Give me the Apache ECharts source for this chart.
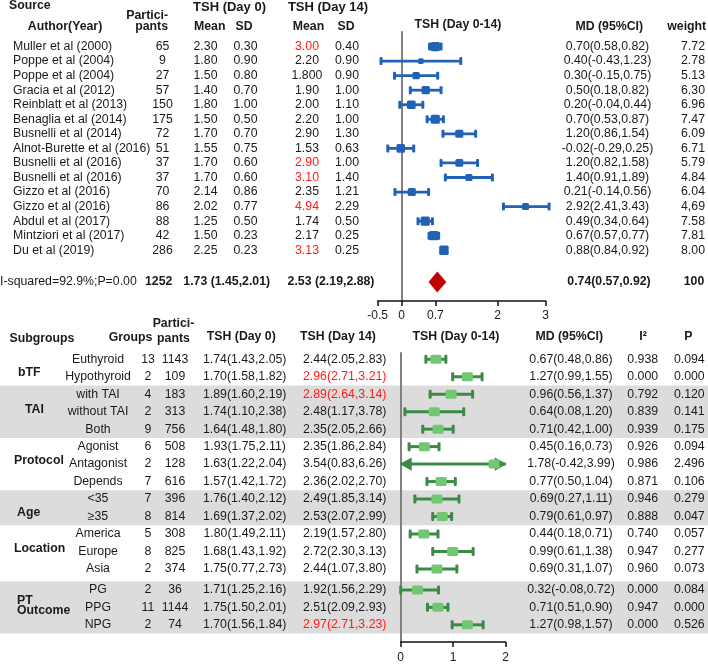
<!DOCTYPE html>
<html><head><meta charset="utf-8">
<script src="https://cdn.jsdelivr.net/npm/echarts@6/dist/echarts.min.js"></script>
<style>html,body{margin:0;padding:0;background:#fff}#c{width:708px;height:664px}</style>
</head><body><div id="c"></div>
<script>
// ---------------- DATA: top table (individual studies) ----------------
const authors = ['Muller et al (2000)','Poppe et al (2004)','Poppe et al (2004)','Gracia et al (2012)','Reinblatt et al (2013)','Benaglia et al (2014)','Busnelli et al (2014)','Alnot-Burette et al (2016)','Busnelli et al (2016)','Busnelli et al (2016)','Gizzo et al (2016)','Gizzo et al (2016)','Abdul et al (2017)','Mintziori et al (2017)','Du et al (2019)'];
const participants = [65, 9, 27, 57, 150, 175, 72, 51, 37, 37, 70, 86, 88, 42, 286];
const day0Mean = ['2.30','1.80','1.50','1.40','1.80','1.50','1.70','1.55','1.70','1.70','2.14','2.02','1.25','1.50','2.25'];
const day0SD = ['0.30','0.90','0.80','0.70','1.00','0.50','0.70','0.75','0.60','0.60','0.86','0.77','0.50','0.23','0.23'];
const day14Mean = ['3.00','2.20','1.800','1.90','2.00','2.20','2.90','1.53','2.90','3.10','2.35','4.94','1.74','2.17','3.13'];
const day14SD = ['0.40','0.90','0.90','1.00','1.10','1.00','1.30','0.63','1.00','1.40','1.21','2.29','0.50','0.25','0.25'];
const day14Highlight = [true,false,false,false,false,false,false,false,true,true,false,true,false,false,true];
const mdLabels = ['0.70(0.58,0.82)','0.40(-0.43,1.23)','0.30(-0.15,0.75)','0.50(0.18,0.82)','0.20(-0.04,0.44)','0.70(0.53,0.87)','1.20(0.86,1.54)','-0.02(-0.29,0.25)','1.20(0.82,1.58)','1.40(0.91,1.89)','0.21(-0.14,0.56)','2.92(2.41,3.43)','0.49(0.34,0.64)','0.67(0.57,0.77)','0.88(0.84,0.92)'];
const weightLabels = ['7.72','2.78','5.13','6.30','6.96','7.47','6.09','6.71','5.79','4.84','6.04','4,69','7.58','7.81','8.00'];
const weights = [7.72, 2.78, 5.13, 6.30, 6.96, 7.47, 6.09, 6.71, 5.79, 4.84, 6.04, 4.69, 7.58, 7.81, 8.00];
// plotted values as drawn in the figure
const mdPlot = [0.70, 0.40, 0.30, 0.50, 0.20, 0.70, 1.20, -0.02, 1.20, 1.40, 0.21, 2.58, 0.49, 0.67, 0.88];
const loPlot = [0.58, -0.43, -0.15, 0.18, -0.04, 0.53, 0.86, -0.29, 0.82, 0.91, -0.14, 2.12, 0.34, 0.57, 0.84];
const hiPlot = [0.82, 1.23, 0.75, 0.82, 0.44, 0.87, 1.54, 0.25, 1.58, 1.89, 0.56, 3.07, 0.64, 0.77, 0.92];
// pooled
const pooledText = 'I-squared=92.9%;P=0.00';
const pooledN = '1252';
const pooledDay0 = '1.73 (1.45,2.01)';
const pooledDay14 = '2.53 (2.19,2.88)';
const pooledMDLabel = '0.74(0.57,0.92)';
const pooledWeight = '100';
const pooled = [0.74, 0.56, 0.93]; // md, lo, hi (as drawn)
const topTicks = [-0.5, 0, 0.7, 2, 3];

// ---------------- DATA: subgroup table ----------------
const groupLabels = ['bTF','TAI','Protocol','Age','Location','PT\nOutcome'];
const groupSizes = [2, 3, 3, 2, 3, 3];
const subNames = ['Euthyroid','Hypothyroid','with TAI','without TAI','Both','Agonist','Antagonist','Depends','<35','≥35','America','Europe','Asia','PG','PPG','NPG'];
const subGroupsN = [13, 2, 4, 2, 9, 6, 2, 7, 7, 8, 5, 8, 2, 2, 11, 2];
const subParticipants = [1143, 109, 183, 313, 756, 508, 128, 616, 396, 814, 308, 825, 374, 36, 1144, 74];
const subDay0 = ['1.74(1.43,2.05)','1.70(1.58,1.82)','1.89(1.60,2.19)','1.74(1.10,2.38)','1.64(1.48,1.80)','1.93(1.75,2.11)','1.63(1.22,2.04)','1.57(1.42,1.72)','1.76(1.40,2.12)','1.69(1.37,2.02)','1.80(1.49,2.11)','1.68(1.43,1.92)','1.75(0.77,2.73)','1.71(1.25,2.16)','1.75(1.50,2.01)','1.70(1.56,1.84)'];
const subDay14 = ['2.44(2.05,2.83)','2.96(2.71,3.21)','2.89(2.64,3.14)','2.48(1.17,3.78)','2.35(2.05,2.66)','2.35(1.86,2.84)','3.54(0.83,6.26)','2.36(2.02,2.70)','2.49(1.85,3.14)','2.53(2.07,2.99)','2.19(1.57,2.80)','2.72(2.30,3.13)','2.44(1.07,3.80)','1.92(1.56,2.29)','2.51(2.09,2.93)','2.97(2.71,3.23)'];
const subDay14Highlight = [false,true,true,false,false,false,false,false,false,false,false,false,false,false,false,true];
const subMD = [0.67, 1.27, 0.96, 0.64, 0.71, 0.45, 1.78, 0.77, 0.69, 0.79, 0.44, 0.99, 0.69, 0.32, 0.71, 1.27];
const subLo = [0.48, 0.99, 0.56, 0.08, 0.42, 0.16, -0.42, 0.50, 0.27, 0.61, 0.18, 0.61, 0.31, -0.08, 0.51, 0.98];
const subHi = [0.86, 1.55, 1.37, 1.20, 1.00, 0.73, 3.99, 1.04, 1.11, 0.97, 0.71, 1.38, 1.07, 0.72, 0.90, 1.57];
const subMDLabels = ['0.67(0.48,0.86)','1.27(0.99,1.55)','0.96(0.56,1.37)','0.64(0.08,1.20)','0.71(0.42,1.00)','0.45(0.16,0.73)','1.78(-0.42,3.99)','0.77(0.50,1.04)','0.69(0.27,1.11)','0.79(0.61,0.97)','0.44(0.18,0.71)','0.99(0.61,1.38)','0.69(0.31,1.07)','0.32(-0.08,0.72)','0.71(0.51,0.90)','1.27(0.98,1.57)'];
const subI2 = ['0.938','0.000','0.792','0.839','0.939','0.926','0.986','0.871','0.946','0.888','0.740','0.947','0.960','0.000','0.947','0.000'];
const subP = ['0.094','0.000','0.120','0.141','0.175','0.094','2.496','0.106','0.279','0.047','0.057','0.277','0.073','0.084','0.000','0.526'];

// ---------------- LAYOUT / STYLE ----------------
const FONT = '"Liberation Sans", Arial, Helvetica, sans-serif';
const FS = 12.3;
const TXT = '#1a1a1a', RED = '#ff1a1a';
const BLUE = '#2162b6', DKGREEN = '#3d8948', LTGREEN = '#72c772', DIAMOND = '#c00000';
const BAND = '#dcdcdc', VLINE = '#808080';
const groupGapBefore = [0, 0, 0, 0, 0, 0.2];
const groupShaded = [false, true, false, true, false, true];
const groupLabelX = [18, 25, 14, 17, 14, 17];
const groupLabelDy = [4.5, -2.5, -3, 5, -3, -2];
const topCols = {author: 13, n: 162.5, m0: 205.5, s0: 245.5, m14: 307, s14: 347, md: 607.5, w: 693};
const subCols = {name: 98, g: 148, n: 175, d0: 244.7, d14: 344.7, md: 571, i2: 642.7, p: 689.3};
const pooledRow = 16.18;

// bottom row positions (row slots incl. group gap)
const subRowPos = [];
const groupRange = [];
(function(){ let pos = 0; groupSizes.forEach((n, g) => { pos += groupGapBefore[g]; const s = pos; for (let j = 0; j < n; j++) subRowPos.push(pos++); groupRange.push([s, pos - 1]); }); })();

function font(bold, size) { return (bold ? 'bold ' : '') + (size || FS) + 'px ' + FONT; }
function T(x, y, s, o) {
  o = o || {};
  return {type: 'text', silent: true, style: {text: s, x: x, y: y, textAlign: o.align || 'center', textVerticalAlign: 'middle', align: o.align || 'center', verticalAlign: 'middle', font: font(o.bold, o.size), fill: o.color || TXT, lineHeight: o.lh}};
}

// error bar renderer (tol in pixels: beyond it the clipped end becomes an arrow)
function errorBar(cfg) {
  return function (params, api) {
    const row = api.value(1);
    const c = api.coord([api.value(0), row]);
    const cs = params.coordSys;
    const xa = cs.x, xb = cs.x + cs.width;
    let pl = api.coord([api.value(2), row])[0], pr = api.coord([api.value(3), row])[0];
    const arL = pl < xa - cfg.tol, arR = pr > xb + cfg.tol;
    if (cfg.clamp || arL) pl = Math.max(pl, xa);
    if (cfg.clamp || arR) pr = Math.min(pr, xb);
    const y = c[1];
    const ch = [];
    ch.push({type: 'line', shape: {x1: pl, y1: y, x2: pr, y2: y}, style: {stroke: cfg.line, lineWidth: cfg.lw}});
    if (arL) ch.push({type: 'polygon', shape: {points: [[pl - 1, y], [pl + cfg.ah, y - cfg.ah * 0.6], [pl + cfg.ah, y + cfg.ah * 0.6]]}, style: {fill: cfg.line}});
    else ch.push({type: 'rect', shape: {x: pl - cfg.cw / 2, y: y - cfg.ch / 2, width: cfg.cw, height: cfg.ch, r: 1}, style: {fill: cfg.line}});
    if (arR) ch.push({type: 'polygon', shape: {points: [[pr + 1, y], [pr - cfg.ah, y - cfg.ah * 0.6], [pr - cfg.ah, y + cfg.ah * 0.6]]}, style: {fill: cfg.line}});
    else ch.push({type: 'rect', shape: {x: pr - cfg.cw / 2, y: y - cfg.ch / 2, width: cfg.cw, height: cfg.ch, r: 1}, style: {fill: cfg.line}});
    const sz = cfg.size(api.value(4));
    ch.push({type: 'rect', shape: {x: c[0] - sz[0] / 2, y: y - sz[1] / 2, width: sz[0], height: sz[1], r: 1.5}, style: {fill: cfg.box}});
    return {type: 'group', children: ch};
  };
}

const chart = echarts.init(document.getElementById('c'), null, {renderer: 'canvas'});

const topData = authors.map((a, i) => [mdPlot[i], i, loPlot[i], hiPlot[i], weights[i]]);
const subData = subNames.map((s, i) => [subMD[i], subRowPos[i], subLo[i], subHi[i], 1]);

const headerEls = [
  T(9, 6, 'Source', {bold: true, align: 'left'}),
  T(65, 26.5, 'Author(Year)', {bold: true}),
  T(168, 15.5, 'Partici-', {bold: true, align: 'right'}),
  T(168, 26.5, 'pants', {bold: true, align: 'right'}),
  T(229.5, 7.5, 'TSH (Day 0)', {bold: true, size: 13}),
  T(209.7, 26.5, 'Mean', {bold: true}),
  T(244, 26.5, 'SD', {bold: true}),
  T(328, 7.5, 'TSH (Day 14)', {bold: true, size: 13}),
  T(308.5, 26.5, 'Mean', {bold: true}),
  T(346, 26.5, 'SD', {bold: true}),
  T(458, 24.5, 'TSH (Day 0-14)', {bold: true}),
  T(609.3, 27, 'MD (95%CI)', {bold: true}),
  T(686.7, 27, 'weight', {bold: true}),
  // bottom headers
  T(42, 339, 'Subgroups', {bold: true}),
  T(130.5, 337.5, 'Groups', {bold: true}),
  T(173.5, 324, 'Partici-', {bold: true}),
  T(173.5, 339, 'pants', {bold: true}),
  T(241.3, 336.5, 'TSH (Day 0)', {bold: true}),
  T(338, 336.5, 'TSH (Day 14)', {bold: true}),
  T(456, 337, 'TSH (Day 0-14)', {bold: true}),
  T(569.3, 337, 'MD (95%CI)', {bold: true}),
  T(643, 337, 'I²', {bold: true}),
  T(688.3, 337, 'P', {bold: true})
];

const option = {
  animation: false,
  backgroundColor: '#fff',
  grid: [
    {left: 377.7, width: 168, top: 32, height: 269},
    {left: 400.7, width: 105, top: 353, height: 290.3}
  ],
  xAxis: [
    {gridIndex: 0, type: 'value', min: -0.5, max: 3,
     axisLine: {onZero: false, lineStyle: {color: '#111', width: 1.5}},
     axisTick: {show: true, length: 5, customValues: topTicks, lineStyle: {color: '#111', width: 1.5}},
     axisLabel: {customValues: topTicks, color: TXT, fontSize: 12, fontFamily: FONT, margin: 9},
     splitLine: {show: false}},
    {gridIndex: 1, type: 'value', min: 0, max: 2, interval: 1,
     axisLine: {onZero: false, lineStyle: {color: '#111', width: 1.5}},
     axisTick: {show: true, length: 5, lineStyle: {color: '#111', width: 1.5}},
     axisLabel: {color: TXT, fontSize: 12, fontFamily: FONT, margin: 10},
     splitLine: {show: false}}
  ],
  yAxis: [
    {gridIndex: 0, type: 'value', inverse: true, min: -1, max: 17.49,
     axisLine: {show: true, onZero: true, lineStyle: {color: VLINE, width: 2}},
     axisTick: {show: false}, axisLabel: {show: false}, splitLine: {show: false}},
    {gridIndex: 1, type: 'value', inverse: true, min: -0.359, max: 16.183,
     axisLine: {show: true, onZero: true, lineStyle: {color: VLINE, width: 2}},
     axisTick: {show: false}, axisLabel: {show: false}, splitLine: {show: false}}
  ],
  graphic: {elements: headerEls},
  series: [
    // shaded bands (bottom)
    {type: 'custom', xAxisIndex: 1, yAxisIndex: 1, z: -5, clip: false, silent: true,
     data: groupRange.map((r, g) => [0, r[0], r[1], groupShaded[g] ? 1 : 0]),
     renderItem: function (params, api) {
       if (!api.value(3)) return null;
       const y0 = api.coord([0, api.value(1) - 0.5])[1];
       const y1 = api.coord([0, api.value(2) + 0.5])[1];
       return {type: 'rect', shape: {x: 0, y: y0, width: api.getWidth(), height: y1 - y0}, style: {fill: BAND}};
     }},
    // top table text
    {type: 'custom', xAxisIndex: 0, yAxisIndex: 0, clip: false, silent: true,
     data: authors.map((a, i) => [0, i]),
     renderItem: function (params, api) {
       const i = params.dataIndex;
       const y = api.coord([0, api.value(1)])[1];
       return {type: 'group', children: [
         T(topCols.author, y, authors[i], {align: 'left'}),
         T(topCols.n, y, String(participants[i])),
         T(topCols.m0, y, day0Mean[i]),
         T(topCols.s0, y, day0SD[i]),
         T(topCols.m14, y, day14Mean[i], {color: day14Highlight[i] ? RED : TXT}),
         T(topCols.s14, y, day14SD[i]),
         T(topCols.md, y, mdLabels[i]),
         T(topCols.w, y, weightLabels[i])
       ]};
     }},
    // pooled row text + diamond
    {type: 'custom', xAxisIndex: 0, yAxisIndex: 0, clip: false, silent: true,
     data: [[pooled[0], pooledRow, pooled[1], pooled[2]]],
     renderItem: function (params, api) {
       const row = api.value(1);
       const c = api.coord([api.value(0), row]);
       const pl = api.coord([api.value(2), row])[0], pr = api.coord([api.value(3), row])[0];
       const y = c[1];
       return {type: 'group', children: [
         {type: 'polygon', shape: {points: [[pl, y], [c[0], y - 10.5], [pr, y], [c[0], y + 10.5]]}, style: {fill: DIAMOND}},
         T(0, y, pooledText, {align: 'left'}),
         T(158.7, y, pooledN, {bold: true}),
         T(226.7, y, pooledDay0, {bold: true}),
         T(331, y, pooledDay14, {bold: true}),
         T(609, y, pooledMDLabel, {bold: true}),
         T(694, y, pooledWeight, {bold: true})
       ]};
     }},
    // top forest marks
    {type: 'custom', xAxisIndex: 0, yAxisIndex: 0, clip: false, silent: true,
     data: topData,
     renderItem: errorBar({line: BLUE, box: BLUE, lw: 2.8, cw: 3, ch: 8, ah: 8, tol: 12, clamp: false,
       size: w => { const s = 3.5 + 0.75 * w; return [s, s]; }})},
    // bottom table text
    {type: 'custom', xAxisIndex: 1, yAxisIndex: 1, clip: false, silent: true,
     data: subNames.map((s, i) => [0, subRowPos[i]]),
     renderItem: function (params, api) {
       const i = params.dataIndex;
       const y = api.coord([0, api.value(1)])[1];
       return {type: 'group', children: [
         T(subCols.name, y, subNames[i]),
         T(subCols.g, y, String(subGroupsN[i])),
         T(subCols.n, y, String(subParticipants[i])),
         T(subCols.d0, y, subDay0[i]),
         T(subCols.d14, y, subDay14[i], {color: subDay14Highlight[i] ? RED : TXT}),
         T(subCols.md, y, subMDLabels[i]),
         T(subCols.i2, y, subI2[i]),
         T(subCols.p, y, subP[i])
       ]};
     }},
    // group labels
    {type: 'custom', xAxisIndex: 1, yAxisIndex: 1, clip: false, silent: true,
     data: groupRange.map((r, g) => [0, (r[0] + r[1]) / 2]),
     renderItem: function (params, api) {
       const g = params.dataIndex;
       const y = api.coord([0, api.value(1)])[1] + groupLabelDy[g];
       return T(groupLabelX[g], y, groupLabels[g], {bold: true, align: 'left', lh: 9.5});
     }},
    // bottom forest marks
    {type: 'custom', xAxisIndex: 1, yAxisIndex: 1, clip: false, silent: true,
     data: subData,
     renderItem: errorBar({line: DKGREEN, box: LTGREEN, lw: 3, cw: 3, ch: 9, ah: 11, tol: 8, clamp: true,
       size: () => [11, 9]})}
  ]
};
chart.setOption(option);
</script>
</body></html>
